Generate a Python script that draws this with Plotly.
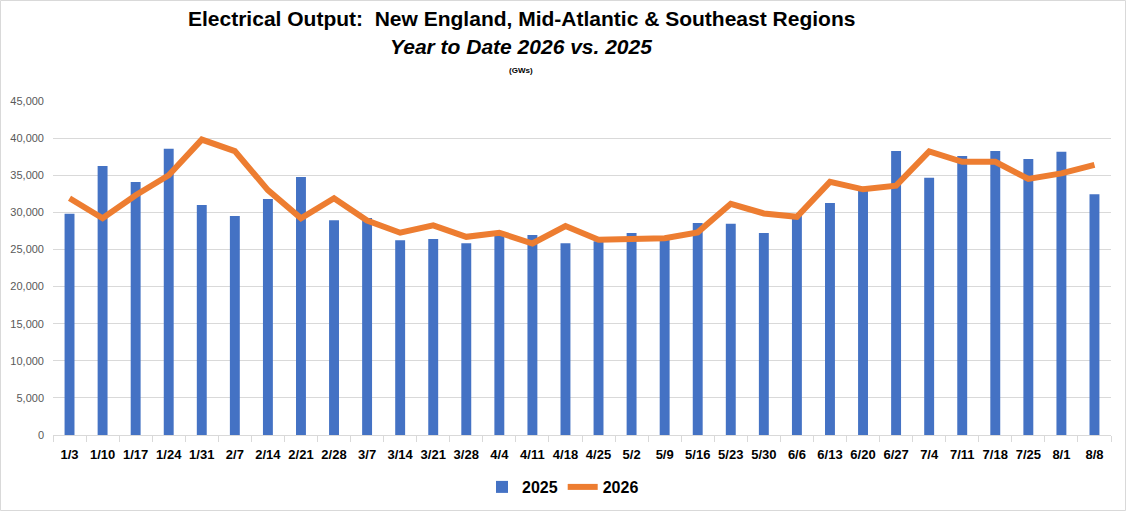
import plotly.graph_objects as go

weeks = ["1/3", "1/10", "1/17", "1/24", "1/31", "2/7", "2/14", "2/21", "2/28", "3/7",
         "3/14", "3/21", "3/28", "4/4", "4/11", "4/18", "4/25", "5/2", "5/9", "5/16",
         "5/23", "5/30", "6/6", "6/13", "6/20", "6/27", "7/4", "7/11", "7/18", "7/25",
         "8/1", "8/8"]

output_2025 = [29800, 36250, 34100, 38550, 31000, 29500, 31800, 34750, 28950, 29250,
               26250, 26400, 25850, 26900, 26950, 25850, 26100, 27200, 26400, 28550,
               28450, 27200, 29600, 31250, 33100, 38250, 34650, 37600, 38250, 37200,
               38150, 32450]

output_2026 = [31900, 29200, 32300, 35000, 39800, 38250, 33000, 29200, 31900, 28900,
               27250, 28250, 26700, 27250, 25800, 28150, 26300, 26500, 26500, 27300,
               31150, 29850, 29400, 34100, 33100, 33600, 38200, 36800, 36800, 34500,
               35250, 36400]

y_ticks = [0, 5000, 10000, 15000, 20000, 25000, 30000, 35000, 40000, 45000]

FONT = "Liberation Sans, Arial, sans-serif"

fig = go.Figure()
fig.add_trace(go.Bar(x=weeks, y=output_2025, name="2025",
                     marker=dict(color="#4472C4", line=dict(width=0))))
fig.add_trace(go.Scatter(x=weeks, y=output_2026, name="2026", mode="lines",
                         line=dict(color="#ED7D31", width=6)))

W, H = 1126, 511
L, R, T, B = 53, 15, 101, 76
pw = W - L - R
ph = H - T - B

def px_x(x):
    return (x - L) / pw

def px_y(y):
    return (H - B - y) / ph

fig.update_layout(
    width=W, height=H,
    margin=dict(l=L, r=R, t=T, b=B, autoexpand=False),
    paper_bgcolor="white", plot_bgcolor="white",
    font=dict(family=FONT, color="#000000"),
    bargap=0.7,
    showlegend=True,
    legend=dict(orientation="h", xref="container", yref="container",
                x=0.5, xanchor="center", y=1 - 487 / H, yanchor="middle",
                bgcolor="rgba(0,0,0,0)",
                font=dict(size=16, family=FONT, color="#000000", weight="bold"),
                itemwidth=30, traceorder="normal"),
    xaxis=dict(type="category", showgrid=False, showline=True, linecolor="#d9d9d9",
               linewidth=1, ticks="outside", tickson="boundaries", ticklen=6,
               tickcolor="#d9d9d9", tickangle=0, automargin=False, ticklabelstandoff=7,
               tickfont=dict(size=13, family=FONT, color="#000000", weight="bold")),
    yaxis=dict(range=[0, 45000], tickvals=y_ticks, tickformat=",d",
               showgrid=True, gridcolor="#d9d9d9", gridwidth=1, zeroline=False,
               showline=False, ticks="", automargin=False, ticklabelstandoff=8,
               tickfont=dict(size=11, family=FONT, color="#595959")),
    shapes=[dict(type="rect", xref="paper", yref="paper",
                 x0=px_x(0.5), x1=px_x(W - 0.5), y0=px_y(H - 0.5), y1=px_y(0.5),
                 line=dict(color="#d9d9d9", width=1), layer="below")],
    annotations=[
        dict(text="<b>Electrical Output:  New England, Mid-Atlantic &amp; Southeast Regions</b>",
             xref="paper", yref="paper", x=px_x(521), y=px_y(19), xanchor="center",
             yanchor="middle", showarrow=False, font=dict(size=21, family=FONT, color="#000000")),
        dict(text="<b><i>Year to Date 2026 vs. 2025</i></b>",
             xref="paper", yref="paper", x=px_x(521), y=px_y(47), xanchor="center",
             yanchor="middle", showarrow=False, font=dict(size=21, family=FONT, color="#000000")),
        dict(text="<b>(GWs)</b>",
             xref="paper", yref="paper", x=px_x(521), y=px_y(70), xanchor="center",
             yanchor="middle", showarrow=False, font=dict(size=8, family=FONT, color="#000000")),
    ],
)

fig.write_html("out.html", config={"displayModeBar": False},
               post_script="document.body.style.margin='0';document.body.style.overflow='hidden';")
